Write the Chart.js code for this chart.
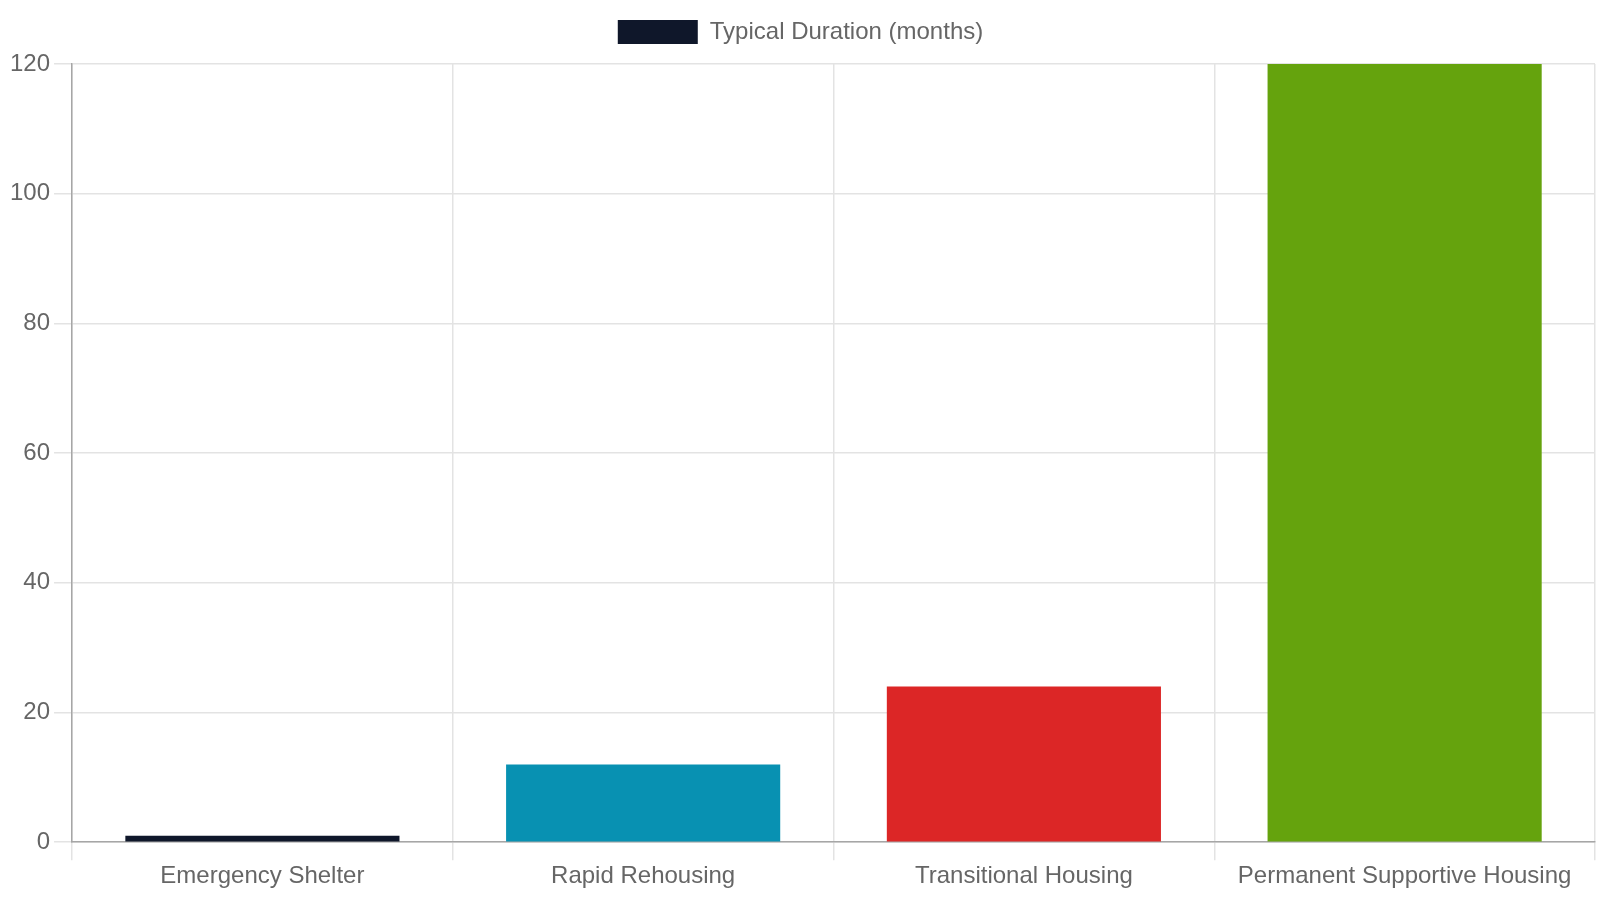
<!DOCTYPE html>
<html>
<head>
<meta charset="utf-8">
<script src="https://cdn.jsdelivr.net/npm/chart.js@4/dist/chart.umd.min.js"></script>
<style>
  html, body { margin: 0; padding: 0; background: #fff; }
  #wrap { width: 1600px; height: 900px; }
</style>
</head>
<body>
<div id="wrap"><canvas id="durationChart"></canvas></div>
<script>
const categories = ["Emergency Shelter", "Rapid Rehousing", "Transitional Housing", "Permanent Supportive Housing"];
const durations = [1, 12, 24, 120];
const barColors = ["#0f172a", "#0891b2", "#dc2626", "#65a30d"];
const yTicks = [0, 20, 40, 60, 80, 100, 120];

Chart.defaults.font.family = "'Liberation Sans', Arial, sans-serif";
Chart.defaults.font.size = 24;
Chart.defaults.color = "#666";

// a bit of extra room under the legend
const legendGap = {
  id: "legendGap",
  beforeInit(chart) {
    const fit = chart.legend.fit;
    chart.legend.fit = function () {
      fit.bind(chart.legend)();
      this.height += 10;
    };
  },
};

const ctx = document.getElementById("durationChart").getContext("2d");

new Chart(ctx, {
  type: "bar",
  data: {
    labels: categories,
    datasets: [
      {
        label: "Typical Duration (months)",
        data: durations,
        backgroundColor: barColors,
        borderWidth: 0,
      },
    ],
  },
  options: {
    responsive: true,
    maintainAspectRatio: false,
    animation: false,
    layout: { padding: { top: 0, left: 6, right: 5, bottom: 7 } },
    plugins: {
      legend: {
        labels: { boxWidth: 80, boxHeight: 24, padding: 20 },
      },
      tooltip: { enabled: false },
    },
    scales: {
      y: {
        beginAtZero: true,
        min: 0,
        max: 120,
        afterBuildTicks: (axis) => {
          axis.ticks = yTicks.map((v) => ({ value: v }));
        },
        ticks: { padding: 4 },
        grid: { color: "#e3e3e3", lineWidth: 1.5, tickLength: 18, tickColor: "#e3e3e3" },
        border: { color: "#a6a6a6", width: 1.5 },
      },
      x: {
        ticks: { padding: 2 },
        grid: { color: "#e3e3e3", lineWidth: 1.5, tickLength: 18 },
        border: { color: "#a6a6a6", width: 1.5 },
      },
    },
  },
  plugins: [legendGap],
});
</script>
</body>
</html>
